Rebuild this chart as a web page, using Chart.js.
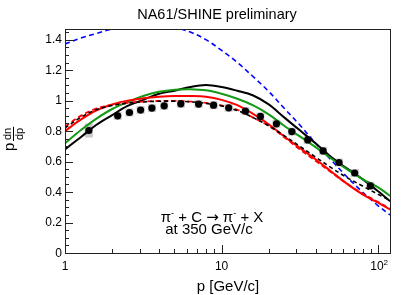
<!DOCTYPE html>
<html><head><meta charset="utf-8">
<script src="https://cdn.jsdelivr.net/npm/chart.js@4"></script>
<style>html,body{margin:0;padding:0;background:#fff}canvas{display:block}</style>
</head><body>
<canvas id="c" width="407" height="295"></canvas>
<script>
// ---- data ----
const curveP = [1, 1.26, 1.58, 2, 2.51, 3.16, 3.98, 5.01, 6.31, 7.94, 10, 12.6, 15.8, 20, 25.1, 31.6, 39.8, 50.1, 63.1, 79.4, 100, 119];
const blueDashed  = [1.372, 1.41, 1.44, 1.47, 1.49, 1.50, 1.50, 1.48, 1.45, 1.40, 1.33, 1.25, 1.16, 1.06, 0.95, 0.84, 0.72, 0.61, 0.50, 0.40, 0.31, 0.25];
const blackSolid  = [0.68, 0.76, 0.84, 0.905, 0.965, 1.005, 1.045, 1.065, 1.09, 1.103, 1.09, 1.065, 1.035, 0.975, 0.89, 0.805, 0.72, 0.63, 0.555, 0.485, 0.405, 0.34];
const greenSolid  = [0.72, 0.805, 0.88, 0.945, 0.99, 1.03, 1.058, 1.072, 1.075, 1.068, 1.045, 1.012, 0.97, 0.91, 0.835, 0.765, 0.695, 0.62, 0.55, 0.485, 0.43, 0.375];
const redSolid    = [0.80, 0.875, 0.935, 0.975, 1.0, 1.015, 1.025, 1.03, 1.03, 1.025, 1.005, 0.97, 0.915, 0.845, 0.765, 0.69, 0.615, 0.535, 0.455, 0.385, 0.33, 0.285];
const redDashed   = [0.83, 0.90, 0.947, 0.972, 0.986, 0.994, 0.998, 0.998, 0.994, 0.985, 0.968, 0.94, 0.89, 0.835, 0.76, 0.68, 0.605, 0.53, 0.455, 0.39, 0.335, 0.29];
const blackDashed = [0.82, 0.89, 0.94, 0.968, 0.983, 0.992, 0.996, 0.996, 0.992, 0.982, 0.965, 0.935, 0.89, 0.835, 0.77, 0.70, 0.63, 0.56, 0.495, 0.44, 0.385, 0.345];

const dataP   = [1.42, 2.17, 2.58, 3.04, 3.59, 4.30, 5.49, 7.13, 8.89, 11.1, 14.2, 17.7, 22.4, 28.1, 35.5, 44.5, 56.2, 70.8, 89.2];
const dataV   = [0.804, 0.900, 0.922, 0.938, 0.951, 0.966, 0.979, 0.977, 0.970, 0.953, 0.931, 0.896, 0.848, 0.797, 0.742, 0.670, 0.594, 0.525, 0.441];
const dataSys = [0.046, 0.026, 0.026, 0.026, 0.026, 0.026, 0.026, 0.026, 0.026, 0.026, 0.026, 0.026, 0.026, 0.026, 0.026, 0.026, 0.026, 0.026, 0.026];

const yMajorTicks = [0, 0.2, 0.4, 0.6, 0.8, 1, 1.2, 1.4];
const yTickLabels = ['0', '0.2', '0.4', '0.6', '0.8', '1', '1.2', '1.4'];
const xMajorTicks = [1, 10, 100];
const xTickLabels = ['1', '10', '10^2'];
const xMinorTicks = [2,3,4,5,6,7,8,9,20,30,40,50,60,70,80,90];

const titleText = 'NA61/SHINE preliminary';
const xTitle = 'p [GeV/c]';

function pts(ys){ return curveP.map((p,i)=>({x:p,y:ys[i]})); }
function lineDs(ys, color, dash, width, order){
  return {type:'line', data:pts(ys), borderColor:color, borderWidth:width, borderDash:dash,
    pointRadius:0, fill:false, tension:0.35, order:order};
}

const FONT = '"Liberation Sans", Arial, Helvetica, sans-serif';

const rootPlugin = {
  id:'rootstyle',
  beforeDatasetsDraw(chart){
    const ctx = chart.ctx, xs = chart.scales.x, ys = chart.scales.y;
    ctx.save();
    ctx.fillStyle = '#c9c9c9';
    for (let i=0;i<dataP.length;i++){
      const xc = xs.getPixelForValue(dataP[i]);
      const hw = 4;
      const y1 = ys.getPixelForValue(dataV[i]+dataSys[i]);
      const y2 = ys.getPixelForValue(dataV[i]-dataSys[i]);
      ctx.fillRect(xc-hw, y1, 2*hw, y2-y1);
    }
    ctx.restore();
  },
  afterDraw(chart){
    const ctx = chart.ctx, a = chart.chartArea, xs = chart.scales.x, ys = chart.scales.y;
    ctx.save();
    // frame
    ctx.strokeStyle = '#222'; ctx.lineWidth = 1;
    ctx.strokeRect(Math.round(a.left)+0.5, Math.round(a.top)+0.5, Math.round(a.right-a.left), Math.round(a.bottom-a.top));
    // y ticks
    ctx.beginPath();
    for (let v=0; v<=1.46; v+=0.05){
      const y = Math.round(ys.getPixelForValue(v))+0.5;
      const major = Math.abs(v/0.2 - Math.round(v/0.2))<1e-6;
      ctx.moveTo(a.left, y); ctx.lineTo(a.left + (major?8:4), y);
    }
    // x ticks
    xMajorTicks.forEach(v=>{ const x=Math.round(xs.getPixelForValue(v))+0.5; ctx.moveTo(x,a.bottom); ctx.lineTo(x,a.bottom-8); });
    xMinorTicks.forEach(v=>{ const x=Math.round(xs.getPixelForValue(v))+0.5; ctx.moveTo(x,a.bottom); ctx.lineTo(x,a.bottom-4); });
    ctx.stroke();
    // y tick labels
    ctx.fillStyle = '#000';
    ctx.font = '12px '+FONT; ctx.textAlign='right'; ctx.textBaseline='middle';
    yMajorTicks.forEach((v,i)=>{ ctx.fillText(yTickLabels[i], a.left-3, ys.getPixelForValue(v)+0.5); });
    // x tick labels
    ctx.textBaseline='alphabetic'; ctx.textAlign='center';
    xMajorTicks.forEach((v,i)=>{
      const x = xs.getPixelForValue(v);
      const lab = xTickLabels[i];
      if (lab.indexOf('^')>=0){
        const [b,e] = lab.split('^');
        ctx.font='12px '+FONT; const wb = ctx.measureText(b).width;
        ctx.font='8px '+FONT; const we = ctx.measureText(e).width;
        const x0 = x - (wb+we)/2 + 1;
        ctx.textAlign='left';
        ctx.font='12px '+FONT; ctx.fillText(b, x0, 270);
        ctx.font='8px '+FONT; ctx.fillText(e, x0+wb, 265);
        ctx.textAlign='center';
      } else {
        ctx.font='12px '+FONT; ctx.fillText(lab, x, 270);
      }
    });
    // x title
    ctx.font='15px '+FONT; ctx.textAlign='center';
    ctx.fillText(xTitle, 228, 291);
    // main title
    ctx.font='14.5px '+FONT;
    ctx.fillText(titleText, 217, 19);
    // annotation
    function rich(segs, cx, base){
      let w=0; segs.forEach(s=>{ctx.font=s[1]+'px '+(s[3]||FONT); w+=ctx.measureText(s[0]).width;});
      let x=cx-w/2; ctx.textAlign='left';
      segs.forEach(s=>{ctx.font=s[1]+'px '+(s[3]||FONT); ctx.fillText(s[0], x, base+s[2]); x+=ctx.measureText(s[0]).width;});
    }
    rich([['\u03C0',15,0],['-',9,-6],[' + C ',15,0],['\u2192',15,0,'"DejaVu Sans", sans-serif'],[' \u03C0',15,0],['-',9,-6],[' + X',15,0]], 212, 222);
    rich([['at 350 GeV/c',15,0]], 209, 234);
    // y title: p dn/dp rotated
    ctx.translate(0, 138); ctx.rotate(-Math.PI/2);
    ctx.textAlign='left'; ctx.textBaseline='alphabetic';
    ctx.font='15px '+FONT;
    ctx.fillText('p', -13, 14);
    ctx.font='11px '+FONT;
    const wn = ctx.measureText('dn').width, wd = ctx.measureText('dp').width;
    const fw = Math.max(wn,wd)+2, fx = -3;
    ctx.fillText('dn', fx + (fw-wn)/2, 11);
    ctx.fillText('dp', fx + (fw-wd)/2, 23);
    ctx.fillRect(fx, 13, fw, 1);
    ctx.restore();
  }
};

new Chart(document.getElementById('c'), {
  type:'line',
  data:{ datasets:[
    {type:'scatter', data:dataP.map((p,i)=>({x:p,y:dataV[i]})), pointRadius:3.6, pointBackgroundColor:'#000', pointBorderColor:'#000', pointBorderWidth:0, showLine:false, order:0},
    lineDs(blackDashed,'#000',[4,3],1.6,2),
    lineDs(redDashed,'#ff0000',[5,3],1.8,3),
    lineDs(redSolid,'#ff0000',[],2,4),
    lineDs(greenSolid,'#149a14',[],2,5),
    lineDs(blackSolid,'#000',[],2,6),
    lineDs(blueDashed,'#0000ff',[5,3.5],1.6,7)
  ]},
  options:{
    responsive:false, animation:false, devicePixelRatio:1,
    layout:{padding:{left:65, right:17, top:29, bottom:42}},
    plugins:{legend:{display:false}, tooltip:{enabled:false}, title:{display:false}},
    scales:{
      x:{type:'logarithmic', min:1, max:119, display:false},
      y:{type:'linear', min:0, max:1.47, display:false}
    }
  },
  plugins:[rootPlugin]
});
</script>
</body></html>
